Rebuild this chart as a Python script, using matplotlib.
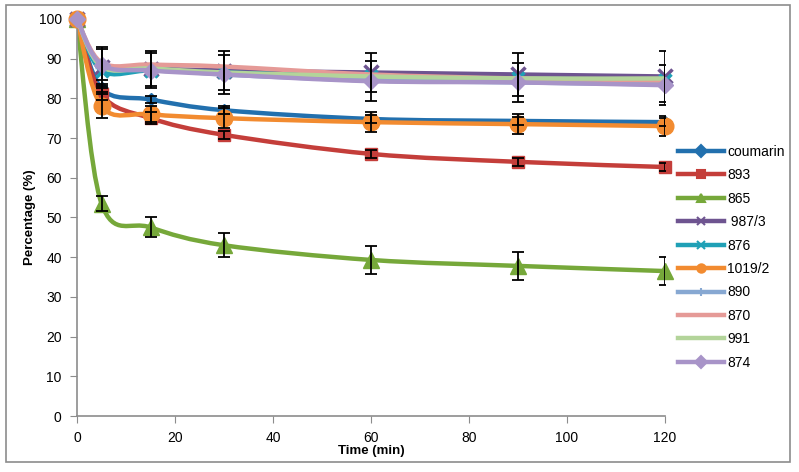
import matplotlib
matplotlib.use("Agg")
import matplotlib.pyplot as plt
import numpy as np
from matplotlib.path import Path
from matplotlib.patches import PathPatch, Rectangle
from matplotlib.lines import Line2D

plt.rcParams['font.family'] = ['Liberation Sans', 'DejaVu Sans']

# data
time = [0, 5, 15, 30, 60, 90, 120]
labels = ["coumarin", "893", "865", " 987/3", "876", "1019/2", "890", "870", "991", "874"]
values = {
    "coumarin": [100, 82.5, 79.7, 77.0, 74.8, 74.3, 74.0],
    "893":      [100, 81.0, 75.0, 70.8, 66.0, 64.0, 62.7],
    "865":      [100, 53.5, 47.5, 43.0, 39.3, 37.8, 36.5],
    " 987/3":   [100, 88.0, 87.5, 87.0, 86.5, 86.0, 85.5],
    "876":      [100, 87.0, 87.0, 86.5, 85.5, 85.0, 84.5],
    "1019/2":   [100, 78.0, 76.0, 75.0, 74.0, 73.5, 73.0],
    "890":      [100, 88.0, 87.5, 86.0, 84.5, 84.0, 83.5],
    "870":      [100, 89.0, 88.5, 88.0, 86.0, 85.0, 84.5],
    "991":      [100, 88.0, 87.5, 86.5, 85.5, 85.0, 85.0],
    "874":      [100, 88.5, 87.0, 86.0, 84.3, 84.0, 83.3],
}
errors = {
    "coumarin": [0, 1.0, 1.0, 1.0, 1.0, 1.0, 1.0],
    "893":      [0, 1.5, 1.5, 1.0, 1.0, 1.0, 1.0],
    "865":      [0, 2.0, 2.5, 3.0, 3.5, 3.5, 3.5],
    " 987/3":   [0, 5.0, 4.5, 4.8, 5.0, 5.5, 6.5],
    "1019/2":   [0, 3.0, 2.0, 2.5, 2.5, 2.5, 2.5],
    "874":      [0, 4.0, 4.5, 5.0, 5.0, 5.0, 5.0],
}
colors = ["#2270AE", "#C43E3A", "#76A83A", "#6E5490", "#1FA0B6",
          "#F28B30", "#87A8D2", "#E59A97", "#B3D49A", "#A894C8"]
markers = ["D", "s", "^", "x", "x", "o", "+", "None", "None", "D"]
msizes = [6, 8, 11, 10, 8, 12, 10, 0, 0, 8]


def smooth_path(x, y):
    # Excel-like smoothed line: cubic Bezier with Catmull-Rom control points
    pts = np.column_stack([x, y]).astype(float)
    n = len(pts)
    verts = [pts[0]]
    codes = [Path.MOVETO]
    for i in range(n - 1):
        p0 = pts[max(i - 1, 0)]
        p1 = pts[i]
        p2 = pts[i + 1]
        p3 = pts[min(i + 2, n - 1)]
        c1 = p1 + (p2 - p0) / 6.0
        c2 = p2 - (p3 - p1) / 6.0
        verts += [c1, c2, p2]
        codes += [Path.CURVE4] * 3
    return Path(verts, codes)


fig = plt.figure(figsize=(7.99, 4.72), dpi=100)
ax = fig.add_axes([0.0964, 0.1186, 0.7358, 0.8414])

handles = []
for i, name in enumerate(labels):
    y = values[name]
    patch = PathPatch(smooth_path(time, y), facecolor="none", edgecolor=colors[i],
                      lw=3.2, capstyle="round", joinstyle="round", zorder=2 + i * 0.1)
    ax.add_patch(patch)
    if markers[i] != "None":
        mew = 2.5 if markers[i] in ("x", "+") else 1
        ax.plot(time, y, linestyle="none", marker=markers[i], ms=msizes[i],
                color=colors[i], mew=mew, zorder=2.05 + i * 0.1, clip_on=False)
    handles.append(Line2D([], [], color=colors[i], lw=3.2, marker=markers[i],
                          ms=min(msizes[i], 6), mew=1.5))

for i, name in enumerate(labels):
    if name in errors:
        ax.errorbar(time[1:], values[name][1:], yerr=errors[name][1:], fmt="none",
                    ecolor="black", elinewidth=1.3, capsize=4, capthick=1.3, zorder=5)

ax.set_xlim(0, 120)
ax.set_ylim(0, 100)
ax.set_xticks(range(0, 121, 20))
ax.set_yticks(range(0, 101, 10))
for s in ["top", "right"]:
    ax.spines[s].set_visible(False)
for s in ["left", "bottom"]:
    ax.spines[s].set_color("#8C8C8C")
    ax.spines[s].set_linewidth(1.2)
ax.tick_params(direction="out", length=5, color="#8C8C8C", labelsize=10, pad=6)
ax.set_xlabel("Time (min)", fontsize=9.5, fontweight="bold", labelpad=0)
ax.set_ylabel("Percentage (%)", fontsize=9.5, fontweight="bold", labelpad=2)

fig.legend(handles, labels, loc="upper left", bbox_to_anchor=(0.842, 0.705),
           frameon=False, fontsize=10, handlelength=3.3, labelspacing=0.68,
           handletextpad=0.2, borderaxespad=0)

fig.patches.append(Rectangle((6 / 799, 10 / 472), 784 / 799, 457 / 472,
                             transform=fig.transFigure, fill=False,
                             edgecolor="#8C8C8C", lw=1.2))

fig.savefig("out.png", dpi=100)
